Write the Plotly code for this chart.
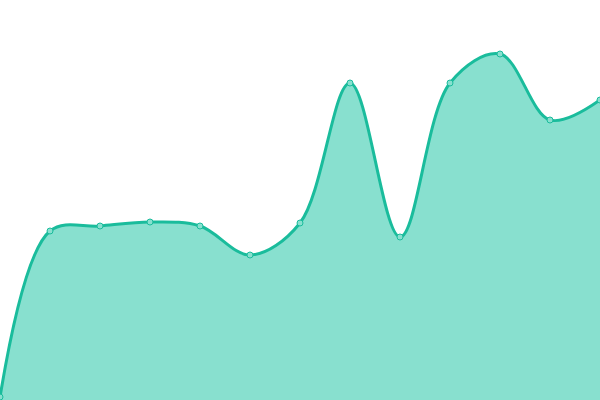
import plotly.graph_objects as go

x_vals = list(range(13))
y_vals = [3, 169, 174, 178, 174, 145, 177, 317, 163, 317, 346, 280, 300]

fig = go.Figure(go.Scatter(
    x=x_vals, y=y_vals, mode="lines+markers",
    line=dict(shape="spline", smoothing=1, color="#1ABC9C", width=3),
    fill="tozeroy", fillcolor="#88E0CF",
    marker=dict(size=6, color="#88E0CF", line=dict(color="#1ABC9C", width=1)),
    hoverinfo="skip",
))
fig.update_layout(
    width=600, height=400,
    margin=dict(l=0, r=0, t=0, b=0),
    paper_bgcolor="white", plot_bgcolor="white",
    showlegend=False,
    xaxis=dict(range=[0, 12], visible=False, fixedrange=True),
    yaxis=dict(range=[0, 400], visible=False, fixedrange=True),
)
fig.write_html("out.html", config={"displayModeBar": False},
               post_script="document.body.style.margin='0';document.body.style.overflow='hidden';")
